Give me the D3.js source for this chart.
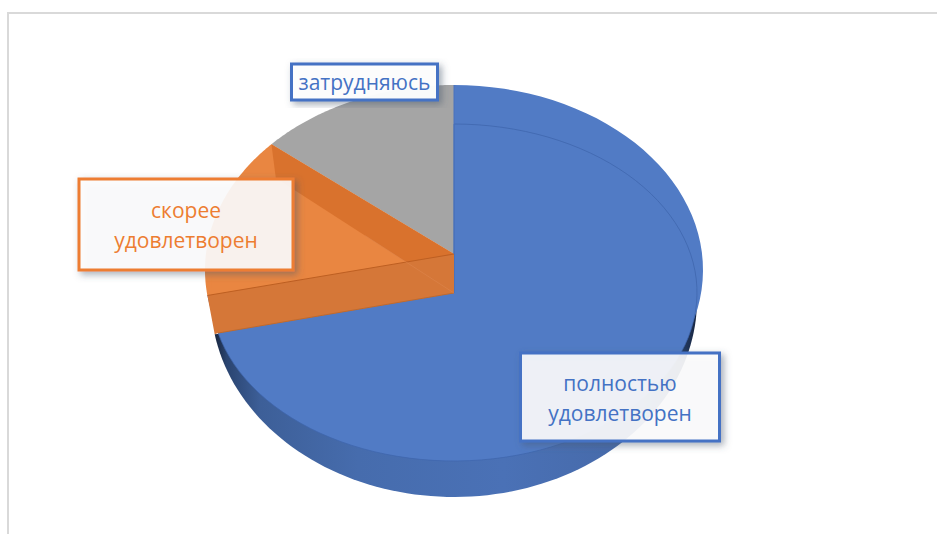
<!DOCTYPE html>
<html><head><meta charset="utf-8">
<script src="https://cdn.jsdelivr.net/npm/d3@7"></script>
<style>html,body{margin:0;padding:0;background:#fff}svg{display:block}</style>
</head><body><svg id="c" width="937" height="534"></svg>
<script>
const categories = ["полностью удовлетворен", "скорее удовлетворен", "затрудняюсь"];
const values = [72.8, 14.1, 13.1];
const blue = "#517bc5", orange = "#ed7d31";

const svg = d3.select("#c");
const defs = svg.append("defs");
const grad = defs.append("linearGradient").attr("id","rim").attr("gradientUnits","userSpaceOnUse")
  .attr("x1",212).attr("x2",698).attr("y1",0).attr("y2",0);
[[0,"#141f33"],[.03,"#2a4470"],[.1,"#3d5f98"],[.3,"#466cad"],[.6,"#4a71b6"],[.88,"#4669a8"],[.95,"#2c4a7c"],[1,"#16233c"]]
  .forEach(s=>grad.append("stop").attr("offset",s[0]).attr("stop-color",s[1]));
const f = defs.append("filter").attr("id","sh").attr("x","-10%").attr("y","-15%").attr("width","125%").attr("height","135%");
f.append("feDropShadow").attr("dx",3).attr("dy",3).attr("stdDeviation",3.5).attr("flood-color","#44546a").attr("flood-opacity",.5);

// frame
svg.append("path").attr("d","M8 534V13H937").attr("fill","none").attr("stroke","#d9d9d9").attr("stroke-width",2);

const pie = d3.pie().sort(null).value(d=>d)(values);
const line = d3.line();
// three projected ellipses of the pie
const back  = {cx:454, cy:270, rx:249, ry:185, vx:454, vy:254};
const front = {cx:454, cy:292.5, rx:243, ry:168.5, vx:454, vy:293};
const floor = {cx:454, cy:300, rx:243, ry:197};
const rad = Math.PI/180;
const frontShift = a => a - 6*rad;
const pt = (e,a)=>[e.cx+e.rx*Math.sin(a), e.cy-e.ry*Math.cos(a)];
const arcPts = (e,a0,a1)=>d3.range(0,1.0001,1/90).map(t=>pt(e,a0+(a1-a0)*t));
const wedge = (e,a0,a1)=>line([[e.vx,e.vy],...arcPts(e,a0,a1)])+"Z";

const [bl,orr,gr] = pie;

// rim of the blue slice
const rimStart = 88*rad, rimEnd = 260*rad;
svg.append("path").attr("d",line(arcPts(floor,rimStart,rimEnd))+"Z").attr("fill","url(#rim)");

// back surface
svg.append("path").attr("d",wedge(back,bl.startAngle,bl.endAngle)).attr("fill",blue);
svg.append("path").attr("d",wedge(back,gr.startAngle,gr.endAngle)).attr("fill","#a5a5a5");
svg.append("path").attr("d",wedge(back,orr.startAngle,orr.endAngle)).attr("fill","#e98641");

// front surface
const fA = frontShift(bl.endAngle);
svg.append("path").attr("d",wedge(front,bl.startAngle,fA)).attr("fill",blue);
svg.append("path").attr("d",line([[front.vx,front.vy],...arcPts(front,bl.startAngle,fA)]))
  .attr("fill","none").attr("stroke","#3f66ac").attr("stroke-width",1).attr("stroke-opacity",.75);
svg.append("path").attr("d",wedge(front,fA,orr.endAngle)).attr("fill","#e98641");

// inner walls of the orange slice
const p1=pt(back,orr.endAngle), p2=pt(front,orr.endAngle);
svg.append("path").attr("d",line([[back.vx,back.vy],p1,p2,[front.vx,front.vy]])+"Z").attr("fill","#d9722d");
const p3=pt(back,orr.startAngle), p4=pt(front,fA), p5=pt(floor,rimEnd);
svg.append("path").attr("d",line([[back.vx,back.vy],p3,p5,p4,[front.vx,front.vy]])+"Z").attr("fill","#d57738");
svg.append("path").attr("d",line([[back.vx,back.vy],p3])).attr("stroke","#bd5f22").attr("stroke-width",1).attr("fill","none");
svg.append("path").attr("d",line([[front.vx,front.vy],p4])).attr("stroke","#bd6a30").attr("stroke-width",1).attr("fill","none");
svg.append("path").attr("d",line([[front.vx,front.vy],[(front.vx+p2[0])/2,(front.vy+p2[1])/2]])).attr("stroke","#e08a52").attr("stroke-width",.8).attr("fill","none").attr("stroke-opacity",.6);
svg.append("path").attr("d",line([[back.vx,back.vy-169],[back.vx,back.vy]])).attr("stroke","#4a73bd").attr("stroke-width",1).attr("fill","none");

// labels
const boxes = [
  {i:2,x:291.5,y:64,w:146,h:36,col:"#4472c4",lines:["затрудняюсь"],ty:[90],op:.94},
  {i:1,x:79,y:179,w:214,h:91,col:orange,lines:["скорее","удовлетворен"],ty:[218,248],op:.88},
  {i:0,x:520.5,y:353,w:199,h:88,col:"#4472c4",lines:["полностью","удовлетворен"],ty:[391,421],op:.88}
];
const g = svg.selectAll("g.lab").data(boxes).join("g").attr("class","lab");
g.append("rect").attr("x",d=>d.x).attr("y",d=>d.y).attr("width",d=>d.w).attr("height",d=>d.h)
  .attr("fill","#fff").attr("fill-opacity",d=>d.op).attr("stroke",d=>d.col).attr("stroke-width",3).attr("filter","url(#sh)");
g.each(function(d){
  const s=d3.select(this);
  d.lines.forEach((t,k)=>s.append("text").attr("x",d.x+d.w/2).attr("y",d.ty[k]).attr("text-anchor","middle")
    .attr("font-family","'Open Sans'").attr("font-size",21).attr("fill",d.col).text(t));
});
</script></body></html>
